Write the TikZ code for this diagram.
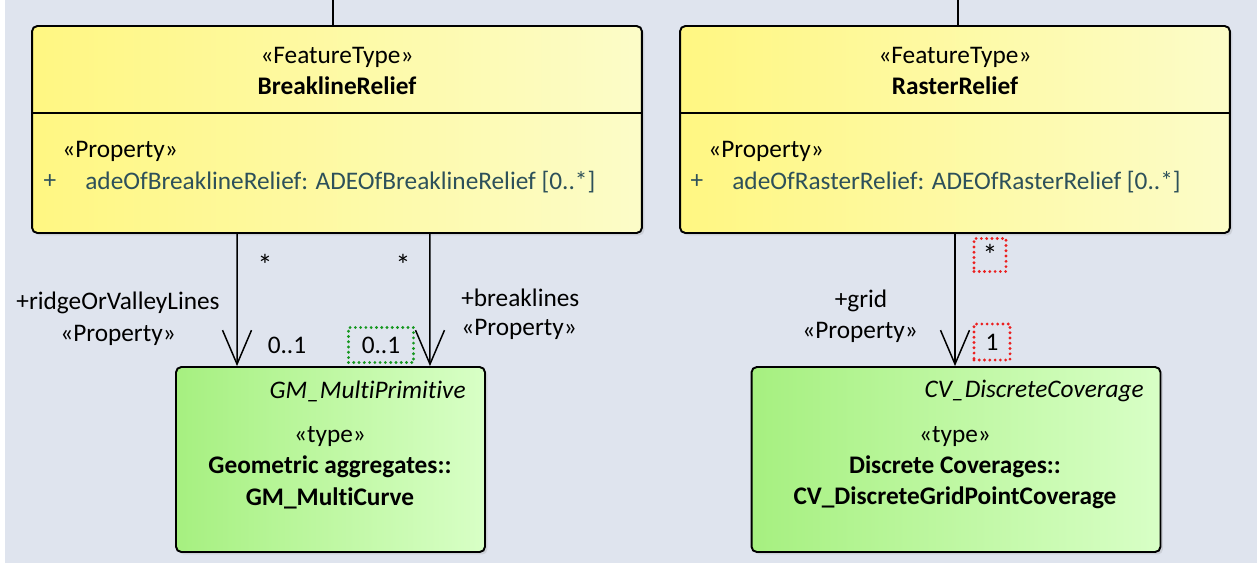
\documentclass[tikz,border=0pt]{standalone}
\usepackage{fontspec}
\setmainfont{Carlito}[Ligatures=NoCommon]
\usepackage{xcolor}
\usepackage{tikz}
\usetikzlibrary{arrows.meta, shadows}
\definecolor{umlbg}{RGB}{223, 228, 238}
\definecolor{ftleft}{RGB}{255, 247, 130}
\definecolor{ftright}{RGB}{252, 252, 200}
\definecolor{tpleft}{RGB}{166, 240, 128}
\definecolor{tpright}{RGB}{216, 255, 198}
\definecolor{attrcol}{RGB}{45, 80, 90}
\definecolor{dotgreen}{RGB}{20, 150, 30}
\definecolor{dotred}{RGB}{235, 30, 30}

\tikzset{
  umlbox/.style={draw=black, line width=1.1pt, rounded corners=3pt, inner sep=0pt,
    drop shadow={opacity=0.2, shadow xshift=0.05cm, shadow yshift=-0.05cm}},
  featbox/.style={umlbox, left color=ftleft, right color=ftright},
  typebox/.style={umlbox, left color=tpleft, right color=tpright},
  umltext/.style={font=\fontsize{14.4}{17}\selectfont, inner sep=0pt},
  boldtext/.style={umltext, font=\fontsize{14.4}{17}\selectfont\bfseries},
  italtext/.style={umltext, font=\fontsize{14.4}{17}\selectfont\itshape},
  startext/.style={umltext, font=\fontsize{17}{17}\selectfont},
  assoc/.style={line width=0.85pt, -{Straight Barb[length=0.68cm, width=0.58cm, line width=0.85pt]}},
  dotmark/.style={umltext, line width=1.8pt, line cap=round, dash pattern=on 0pt off 3pt}
}

\begin{document}
\begin{tikzpicture}[x=0.02cm, y=-0.02cm]
\useasboundingbox (0,0) rectangle (1257,566);
\fill[white] (0,0) rectangle (1257,566);
\fill[umlbg] (5,0) rectangle (1257,563);

% Feature types
\node[featbox, minimum width=12.2cm, minimum height=4.14cm] (brk) at (337,129.5) {};
\node[featbox, minimum width=11cm, minimum height=4.14cm] (rst) at (955,129.5) {};
\draw[line width=1.1pt] (brk.west |- 0,113) -- (brk.east |- 0,113);
\draw[line width=1.1pt] (rst.west |- 0,113) -- (rst.east |- 0,113);

% Incoming lines from above
\coordinate (brkin) at (333,0);
\coordinate (rstin) at (958,0);
\draw[line width=0.85pt] (brkin) -- (brkin |- brk.north);
\draw[line width=0.85pt] (rstin) -- (rstin |- rst.north);

\node[umltext] (brkst) at (337,57) {«FeatureType»};
\node[boldtext] (brkname) at (337,86) {BreaklineRelief};
\node[umltext, anchor=west] (brkprop) at (62,151) {«Property»};
\node[umltext, text=attrcol] (brkplus) at (50,182) {+};
\node[umltext, text=attrcol, anchor=west] (brkattr) at (85,182) {adeOfBreaklineRelief: ADEOfBreaklineRelief [0..*]};

\node[umltext] (rstst) at (955,57) {«FeatureType»};
\node[boldtext] (rstname) at (955,86) {RasterRelief};
\node[umltext, anchor=west] (rstprop) at (708,151) {«Property»};
\node[umltext, text=attrcol] (rstplus) at (697,182) {+};
\node[umltext, text=attrcol, anchor=west] (rstattr) at (732,182) {adeOfRasterRelief: ADEOfRasterRelief [0..*]};

% Types
\node[typebox, minimum width=6.18cm, minimum height=3.7cm] (gm) at (330.5,459.5) {};
\node[typebox, minimum width=8.18cm, minimum height=3.7cm] (cv) at (956,459.5) {};

\node[italtext, anchor=east] (gmsup) at (466,391) {GM\_MultiPrimitive};
\node[umltext] (gmst) at (330,437) {«type»};
\node[boldtext] (gmpkg) at (330,467) {Geometric aggregates::};
\node[boldtext] (gmname) at (330,498) {GM\_MultiCurve};

\node[italtext, anchor=east] (cvsup) at (1144,391) {CV\_DiscreteCoverage};
\node[umltext] (cvst) at (955,437) {«type»};
\node[boldtext] (cvpkg) at (955,467) {Discrete Coverages::};
\node[boldtext] (cvname) at (955,498) {CV\_DiscreteGridPointCoverage};

% Associations
\draw[assoc] ([xshift=-2cm]brk.south) -- ([xshift=-1.87cm]gm.north);
\draw[assoc] ([xshift=1.86cm]brk.south) -- ([xshift=1.99cm]gm.north);
\draw[assoc] (rst.south) -- (rst.south |- cv.north);

% Role names and multiplicities
\node[startext] (rvmany) at (265,265) {*};
\node[umltext, anchor=east] (rvrole) at (220,303) {+ridgeOrValleyLines};
\node[umltext] (rvprop) at (118,335) {«Property»};
\node[umltext] (rvone) at (287,345) {0..1};

\node[startext] (blmany) at (403,265) {*};
\node[umltext, anchor=west] (blrole) at (461,298) {+breaklines};
\node[umltext, anchor=west] (blprop) at (461,329) {«Property»};
\node[dotmark, draw=dotgreen, minimum width=1.3cm, minimum height=0.7cm] (blone) at (381,345) {0..1};

\node[dotmark, draw=dotred, minimum width=0.64cm, minimum height=0.66cm, font=\fontsize{17}{17}\selectfont] (grmany) at (990,255) {\raisebox{-0.25em}{*}};
\node[umltext] (grrole) at (861,301) {+grid};
\node[umltext] (grprop) at (860,332) {«Property»};
\node[dotmark, draw=dotred, minimum width=0.72cm, minimum height=0.72cm] (grone) at (992,342) {1};
\end{tikzpicture}
\end{document}
